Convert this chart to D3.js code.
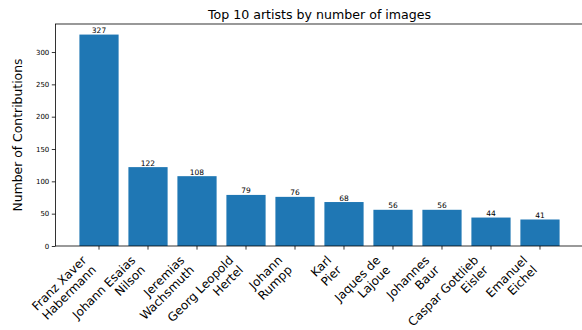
<!DOCTYPE html>
<html>
<head>
<meta charset="utf-8">
<script src="https://cdn.jsdelivr.net/npm/d3@7"></script>
<style>
  body { margin: 0; background: #fff; }
  svg { display: block; font-family: "DejaVu Sans", sans-serif; }
</style>
</head>
<body>
<script>
var artists = [
  "Franz Xaver\nHabermann", "Johann Esaias\nNilson", "Jeremias\nWachsmuth",
  "Georg Leopold\nHertel", "Johann\nRumpp", "Karl\nPier", "Jaques de\nLajoue",
  "Johannes\nBaur", "Caspar Gottlieb\nEisler", "Emanuel\nEichel"
];
var counts = [327, 122, 108, 79, 76, 68, 56, 56, 44, 41];
var yTicks = [0, 50, 100, 150, 200, 250, 300];

function draw_chart() {
  var width = 582;
  var height = 330;
  var mLeft = 55.4, mRight = 583.6, mTop = 24, mBottom = 246;

  var svg = d3.select("body")
    .append("svg")
    .attr("width", width)
    .attr("height", height);

  var x = d3.scaleBand()
    .domain(d3.range(artists.length))
    .range([mLeft, mRight])
    .paddingInner(0.2)
    .paddingOuter(0.49);

  var y = d3.scaleLinear()
    .domain([0, d3.max(counts) * 1.05])
    .range([mBottom, mTop]);

  // bars
  svg.selectAll("rect.bar")
    .data(counts)
    .enter()
    .append("rect")
    .attr("class", "bar")
    .attr("x", function (d, i) { return x(i); })
    .attr("y", function (d) { return y(d); })
    .attr("width", x.bandwidth())
    .attr("height", function (d) { return y(0) - y(d); })
    .attr("fill", "#1f77b4");

  // value labels
  svg.selectAll("text.val")
    .data(counts)
    .enter()
    .append("text")
    .attr("class", "val")
    .attr("x", function (d, i) { return x(i) + x.bandwidth() / 2; })
    .attr("y", function (d) { return y(d) - 1.5; })
    .attr("text-anchor", "middle")
    .attr("font-size", 7.5)
    .attr("fill", "#000")
    .text(function (d) { return d; });

  // y axis
  var yAxis = svg.append("g")
    .attr("transform", "translate(" + mLeft + ",0)")
    .call(d3.axisLeft(y).tickValues(yTicks).tickSize(3.6).tickPadding(2.5));
  yAxis.select(".domain").remove();
  yAxis.selectAll("text").attr("font-size", 7).attr("fill", "#000").style("font-family", "DejaVu Sans");
  yAxis.selectAll("line").attr("stroke", "#000").attr("stroke-width", 0.8);

  // x axis
  var xAxis = svg.append("g")
    .attr("transform", "translate(0," + mBottom + ")")
    .call(d3.axisBottom(x).tickSize(3.6).tickFormat(""));
  xAxis.select(".domain").remove();
  xAxis.selectAll("line").attr("stroke", "#000").attr("stroke-width", 0.8);

  // rotated two-line x labels, right aligned like matplotlib ha="right"
  var fs = 12;
  artists.forEach(function (name, i) {
    var lines = name.split("\n");
    var g = svg.append("g");
    var t = g.append("text")
      .attr("text-anchor", "end")
      .attr("font-size", fs)
      .attr("fill", "#000");
    lines.forEach(function (ln, k) {
      t.append("tspan")
        .attr("x", 0)
        .attr("dy", k === 0 ? 0 : fs * 1.15)
        .text(ln);
    });
    var bb = t.node().getBBox();
    var tx = x(i) + x.bandwidth() / 2;
    var ty = mBottom + 3.6 + 3.6;
    var s = Math.SQRT1_2;
    g.attr("transform", "translate(" + (tx - (bb.y + bb.height) * s) + "," + (ty - bb.y * s) + ") rotate(-45)");
  });

  // frame
  svg.append("rect")
    .attr("x", mLeft)
    .attr("y", mTop)
    .attr("width", mRight - mLeft)
    .attr("height", mBottom - mTop)
    .attr("fill", "none")
    .attr("stroke", "#000")
    .attr("stroke-width", 0.8);

  // title and y label
  svg.append("text")
    .attr("x", (mLeft + mRight) / 2)
    .attr("y", 19)
    .attr("text-anchor", "middle")
    .attr("font-size", 12.6)
    .text("Top 10 artists by number of images");

  svg.append("text")
    .attr("transform", "translate(22," + ((mTop + mBottom) / 2) + ") rotate(-90)")
    .attr("text-anchor", "middle")
    .attr("font-size", 12.4)
    .text("Number of Contributions");
}

draw_chart();
</script>
</body>
</html>
